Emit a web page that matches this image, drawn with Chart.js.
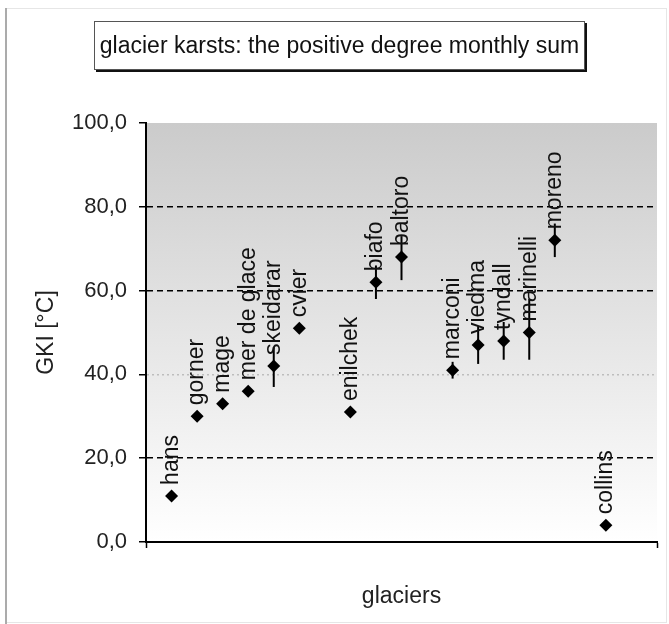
<!DOCTYPE html>
<html><head><meta charset="utf-8">
<script src="https://cdn.jsdelivr.net/npm/chart.js@4/dist/chart.umd.min.js"></script>
<style>html,body{margin:0;padding:0;background:#fff}</style>
</head><body>
<canvas id="c" width="669" height="624"></canvas>
<script>
// ---- data ----
const glaciers     = ['hans','gorner','mage','mer de glace','skeidarar','cvier','enilchek','biafo','baltoro','marconi','viedma','tyndall','marinelli','moreno','collins'];
const glacierIndex = [1, 2, 3, 4, 5, 6, 8, 9, 10, 12, 13, 14, 15, 16, 18];
const gki          = [11, 30, 33, 36, 42, 51, 31, 62, 68, 41, 47, 48, 50, 72, 4];
const errPlus      = [0, 0, 0, 0, 4.5, 0, 0, 4, 5, 2, 4.5, 4.5, 8, 4, 0];
const errMinus     = [0, 0, 0, 0, 5, 0, 0, 4, 5.5, 2, 4.5, 4.5, 6.5, 4, 0];
const yTicks       = [0, 20, 40, 60, 80, 100];
const yTickLabels  = ['0,0', '20,0', '40,0', '60,0', '80,0', '100,0'];
const chartTitle   = 'glacier karsts: the positive degree monthly sum';
const xTitle       = 'glaciers';
const yTitle       = 'GKI [°C]';

const FONT = '"Liberation Sans", Arial, sans-serif';

const backgroundPlugin = {
  id: 'bg',
  beforeDraw(chart) {
    const {ctx, chartArea: a} = chart;
    ctx.save();
    ctx.fillStyle = '#fff';
    ctx.fillRect(0, 0, chart.width, chart.height);
    ctx.strokeStyle = '#e6e6e6';
    ctx.lineWidth = 1;
    ctx.strokeRect(6.5, 8.5, 660, 614);
    ctx.fillStyle = '#ababab';
    ctx.fillRect(5, 8, 2, 616);
    const g = ctx.createLinearGradient(0, a.top, 0, a.bottom);
    g.addColorStop(0, '#cbcbcb');
    g.addColorStop(1, '#ffffff');
    ctx.fillStyle = g;
    ctx.fillRect(a.left, a.top, a.right - a.left, a.bottom - a.top);
    ctx.restore();
  }
};

const errorBarPlugin = {
  id: 'errbars',
  beforeDatasetsDraw(chart) {
    const {ctx, scales: {x, y}} = chart;
    ctx.save();
    ctx.strokeStyle = '#000';
    ctx.lineWidth = 2;
    gki.forEach((v, i) => {
      if (!errPlus[i] && !errMinus[i]) return;
      const px = x.getPixelForValue(glacierIndex[i]);
      ctx.beginPath();
      ctx.moveTo(px, y.getPixelForValue(v + errPlus[i]));
      ctx.lineTo(px, y.getPixelForValue(v - errMinus[i]));
      ctx.stroke();
    });
    ctx.restore();
  }
};

const labelPlugin = {
  id: 'pointLabels',
  afterDatasetsDraw(chart) {
    const {ctx, scales: {x, y}} = chart;
    ctx.save();
    ctx.fillStyle = '#111';
    ctx.font = '23px ' + FONT;
    ctx.textAlign = 'left';
    ctx.textBaseline = 'middle';
    gki.forEach((v, i) => {
      const px = x.getPixelForValue(glacierIndex[i]);
      const py = y.getPixelForValue(v) - 11;
      ctx.save();
      ctx.translate(px, py);
      ctx.rotate(-Math.PI / 2);
      ctx.fillText(glaciers[i], 0, 0);
      ctx.restore();
    });
    ctx.restore();
  }
};

const titleBoxPlugin = {
  id: 'titleBox',
  afterDraw(chart) {
    const {ctx} = chart;
    const L = 94, T = 21, R = 585, B = 70;
    ctx.save();
    ctx.fillStyle = '#fff';
    ctx.fillRect(L, T, R - L, B - T);
    ctx.fillStyle = '#111';
    ctx.fillRect(L + 2, B, R - L, 2);
    ctx.fillRect(R, T + 2, 2, B - T);
    ctx.strokeStyle = '#555';
    ctx.lineWidth = 1;
    ctx.strokeRect(L + 0.5, T + 0.5, R - L - 1, B - T - 1);
    ctx.fillStyle = '#111';
    ctx.font = '23px ' + FONT;
    ctx.textAlign = 'center';
    ctx.textBaseline = 'middle';
    ctx.fillText(chartTitle, (L + R) / 2, (T + B) / 2 + 1);
    ctx.restore();
  }
};

new Chart(document.getElementById('c'), {
  type: 'scatter',
  data: {
    datasets: [{
      data: gki.map((v, i) => ({x: glacierIndex[i], y: v})),
      pointStyle: 'rectRot',
      pointRadius: 6.5,
      pointHoverRadius: 6.5,
      backgroundColor: '#000',
      borderColor: '#000',
      borderWidth: 0
    }]
  },
  options: {
    responsive: false,
    animation: false,
    events: [],
    layout: {padding: {top: 123, right: 12, bottom: 0, left: 0}},
    plugins: {legend: {display: false}, tooltip: {enabled: false}, title: {display: false}},
    scales: {
      x: {
        type: 'linear',
        min: 0, max: 20,
        afterBuildTicks(scale) { scale.ticks = [{value: 0}, {value: 20}]; },
        afterFit(scale) { scale.height = 82; },
        ticks: {callback: () => '', font: {size: 1}},
        grid: {drawOnChartArea: false, drawTicks: true, tickLength: 6, tickColor: '#000', tickWidth: 1.5},
        border: {display: true, color: '#000', width: 2},
        title: {display: true, text: xTitle, color: '#222', font: {family: FONT, size: 23}, padding: {top: 0, bottom: 14}}
      },
      y: {
        type: 'linear',
        min: 0, max: 100,
        afterBuildTicks(scale) { scale.ticks = yTicks.map(v => ({value: v})); },
        afterFit(scale) { scale.width = 146; },
        ticks: {
          padding: 12,
          color: '#222',
          font: {family: FONT, size: 22},
          callback: (v) => yTickLabels[yTicks.indexOf(v)]
        },
        grid: {
          drawTicks: true,
          tickLength: 7,
          tickColor: '#000',
          tickWidth: 1.5,
          lineWidth: 1.5,
          color: (c) => {
            const v = c.tick ? c.tick.value : null;
            if (v === 20 || v === 60 || v === 80) return '#000';
            if (v === 40) return '#bdbdbd';
            return 'rgba(0,0,0,0)';
          }
        },
        border: {
          display: true, color: '#000', width: 2,
          dash: (c) => (c.tick && c.tick.value === 40) ? [2, 3] : [6, 4]
        },
        title: {display: true, text: yTitle, color: '#222', font: {family: FONT, size: 23}, padding: {top: 33, bottom: 0}}
      }
    }
  },
  plugins: [backgroundPlugin, errorBarPlugin, labelPlugin, titleBoxPlugin]
});
</script>
</body></html>
